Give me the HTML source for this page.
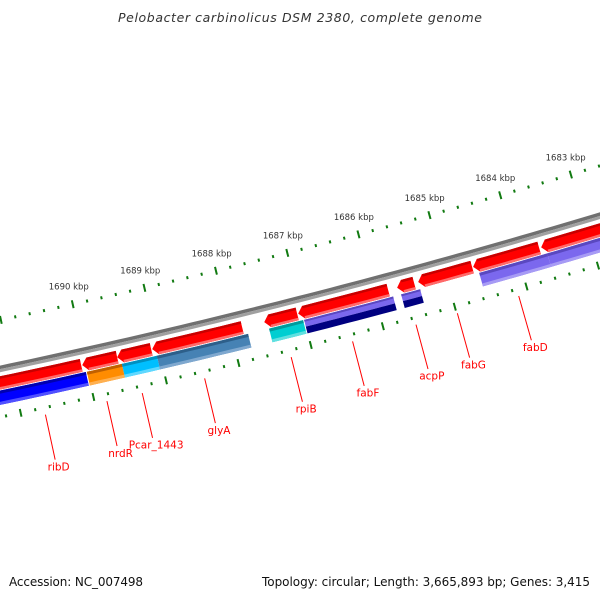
<!DOCTYPE html>
<html><head><meta charset="utf-8"><style>
html,body{margin:0;padding:0;background:#fff;}
svg{display:block;}
</style></head>
<body>
<svg id="map" width="600" height="600" viewBox="0 0 600 600" xmlns="http://www.w3.org/2000/svg">
<rect width="600" height="600" fill="#fff"/>
<text x="300" y="22" text-anchor="middle" font-family="DejaVu Sans, sans-serif" font-style="italic" font-size="12.5" fill="#333" textLength="364">Pelobacter carbinolicus DSM 2380, complete genome</text>
<g id="ruler-inner"></g>
<g id="ruler-outer"></g>
<g id="backbone"></g>
<g id="features"></g>
<g id="labels"></g>
<text x="9" y="586" font-family="DejaVu Sans, sans-serif" font-size="12" fill="#111" textLength="134">Accession: NC_007498</text>
<text x="590" y="586" text-anchor="end" font-family="DejaVu Sans, sans-serif" font-size="12" fill="#111" textLength="328">Topology: circular; Length: 3,665,893 bp; Genes: 3,415</text>
</svg>
<script>
// ---- data ----
const rulerStart = 1682600;
const rulerEnd = 1691400;
const majorStep = 1000;
const minorStep = 200;
const rulerLabels = [1683, 1684, 1685, 1686, 1687, 1688, 1689, 1690];
// reverse-strand CDS (red arrows), bp ranges
const cdsStarts = [1690068, 1689571, 1689100, 1687838, 1687074, 1685806, 1685443, 1684632, 1683692, 1682700];
const cdsEnds   = [1691500, 1690054, 1689571, 1689086, 1687532, 1687060, 1685681, 1685387, 1684618, 1683664];
// coloured (COG) row
const cogStarts = [1690027, 1689529, 1689045, 1687782, 1687018, 1685764, 1685387, 1683608, 1682700];
const cogEnds   = [1691500, 1690013, 1689529, 1689045, 1687490, 1687004, 1685653, 1684562, 1683608];
const cogColors = ["#0000ff", "#ff8c00", "#00bfff", "#4682b4", "#00ced1", "split", "split", "#7b68ee", "#7b68ee"];
// gene labels
const geneNames = ["ribD", "nrdR", "Pcar_1443", "glyA", "rpiB", "fabF", "acpP", "fabG", "fabD"];
const geneBp = [1690680, 1689835, 1689350, 1688490, 1687295, 1686445, 1685565, 1684990, 1684135];

// ---- geometry ----
const CX = -1530, CY = -6873;
function angle(bp){ return (12.588 + (1690000 - bp) * 0.000573) * Math.PI / 180; }
function pt(bp, r){ const a = angle(bp); return [CX + r * Math.sin(a), CY + r * Math.cos(a)]; }
const NS = "http://www.w3.org/2000/svg";
function mk(tag, attrs, parent){ const e = document.createElementNS(NS, tag); for (const k in attrs) e.setAttribute(k, attrs[k]); parent.appendChild(e); return e; }
function arcPts(b1, b2, r){ const out = []; const n = Math.max(2, Math.ceil(Math.abs(b2 - b1) / 150)); for (let i = 0; i <= n; i++){ out.push(pt(b1 + (b2 - b1) * i / n, r)); } return out; }
function band(b1, b2, r1, r2, color, parent, name){
  const p = arcPts(b1, b2, r1).concat(arcPts(b2, b1, r2));
  const e = mk("polygon", {points: p.map(q => q[0].toFixed(2) + "," + q[1].toFixed(2)).join(" "), fill: color}, parent);
  
  
  return e;
}
function arrow(b1, b2, r1, r2, color, parent, name){
  const head = 75; const rm = (r1 + r2) / 2;
  const bh = Math.max(b1, b2 - head);
  const p = arcPts(b1, bh, r1).concat([pt(b2, rm)]).concat(arcPts(bh, b1, r2));
  const e = mk("polygon", {points: p.map(q => q[0].toFixed(2) + "," + q[1].toFixed(2)).join(" "), fill: color}, parent);
  
  
  return e;
}

// backbone
const bb = document.getElementById("backbone");
band(rulerStart - 500, rulerEnd + 500, 7398.5, 7402, "#707070", bb, "backbone-dark");
band(rulerStart - 500, rulerEnd + 500, 7402, 7405, "#a0a0a0", bb, "backbone-light");

// rulers
function ruler(r, g, labels){
  for (let b = rulerStart; b <= rulerEnd; b += minorStep){
    const major = (b % majorStep) === 0;
    const len = major ? 4 : 1.5;
    const a = pt(b, r - len), c = pt(b, r + len);
    const t = mk("line", {x1: a[0], y1: a[1], x2: c[0], y2: c[1], stroke: "#117a11", "stroke-width": 2}, g);
    
    
  }
  if (labels){
    rulerLabels.forEach(k => {
      const p = pt(k * 1000, r - 18);
      const tx = mk("text", {x: p[0], y: p[1] + 3, "text-anchor": "middle", "font-family": "DejaVu Sans, sans-serif", "font-size": "8.5", fill: "#333"}, g);
      tx.textContent = k + " kbp";
      
      
    });
  }
}
ruler(7354, document.getElementById("ruler-inner"), true);
ruler(7449, document.getElementById("ruler-outer"), false);

// features
const fg = document.getElementById("features");
cdsStarts.forEach((s, i) => {
  const e = cdsEnds[i];
  arrow(s, e, 7409, 7422, "#ff0000", fg, "cds-arrow");
  const bh = Math.max(s, e - 75);
  band(s, bh, 7409, 7411.5, "#c80000", fg, "cds-shade-top");
  band(s, bh, 7419.5, 7422, "#ff6a6a", fg, "cds-shade-bottom");
});
const shade = {"#0000ff": ["#0000b0", "#5050ff"], "#ff8c00": ["#c06000", "#ffb050"], "#00bfff": ["#0090c0", "#60d8ff"], "#4682b4": ["#2d5f8a", "#7fa8cf"], "#00ced1": ["#009a9c", "#60e0e0"], "#7b68ee": ["#5a48c0", "#a79bf5"]};
cogStarts.forEach((s, i) => {
  const e = cogEnds[i], c = cogColors[i];
  if (c === "split"){
    band(s, e, 7423, 7430, "#7b68ee", fg, "cog-band-slate");
    band(s, e, 7423, 7425, "#5a48c0", fg, "cog-shade");
    band(s, e, 7430, 7437, "#000080", fg, "cog-band-navy");
  } else {
    band(s, e, 7423, 7437, c, fg, "cog-band");
    band(s, e, 7423, 7426, shade[c][0], fg, "cog-shade-top");
    band(s, e, 7434, 7437, shade[c][1], fg, "cog-shade-bottom");
  }
});

// labels
const lg = document.getElementById("labels");
geneNames.forEach((n, i) => {
  const a = pt(geneBp[i], 7456), b = pt(geneBp[i], 7502), t = pt(geneBp[i], 7509);
  const l = mk("line", {x1: a[0], y1: a[1], x2: b[0], y2: b[1], stroke: "#ff0000", "stroke-width": 1}, lg);
  
  
  const tx = mk("text", {x: t[0] + 2, y: t[1] + 4, "text-anchor": "middle", "font-family": "DejaVu Sans, sans-serif", "font-size": "10.5", fill: "#ff0000"}, lg);
  tx.textContent = n;
  
  
});
</script>
</body></html>
